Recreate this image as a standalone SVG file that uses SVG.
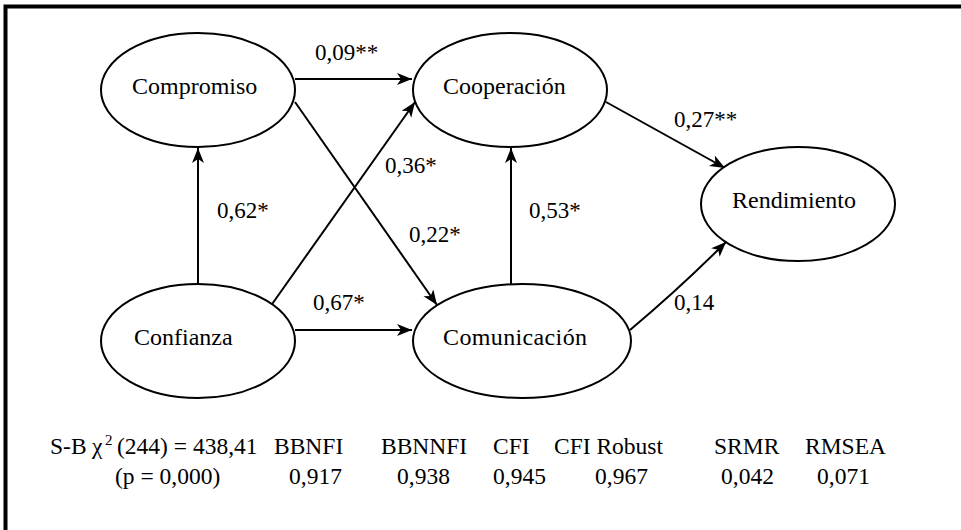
<svg xmlns="http://www.w3.org/2000/svg" width="961" height="530" viewBox="0 0 961 530" font-family="'Liberation Serif', 'DejaVu Serif', serif">
<style>
  .n ellipse { fill: #fff; stroke: #000; stroke-width: 2; }
  text { font-family: 'Liberation Serif', 'DejaVu Serif', serif; font-size: 23px; fill: #000; }
  .n text { font-size: 24px; }
  #fit text { font-size: 23.5px; }
  .c line, .c path { stroke: #000; stroke-width: 2; fill: none; marker-end: url(#ah); }
</style>
<defs>
  <marker id="ah" markerUnits="userSpaceOnUse" markerWidth="16" markerHeight="14" refX="15" refY="6" orient="auto">
    <path d="M0,0 L15,6 L0,12 L4,6 z" fill="#000"/>
  </marker>
</defs>
<rect width="961" height="530" fill="#fff"/>
<path d="M5.5,530 V6.5 H961" fill="none" stroke="#000" stroke-width="4"/>

<g class="c" id="connectors">
  <line x1="198" y1="284" x2="198" y2="148"/>
  <line x1="295" y1="79" x2="412" y2="79"/>
  <line x1="295" y1="102" x2="437" y2="305"/>
  <line x1="270" y1="307" x2="415" y2="102"/>
  <line x1="295" y1="330" x2="412" y2="330"/>
  <line x1="511" y1="284" x2="511" y2="148"/>
  <line x1="606" y1="102" x2="725" y2="168"/>
  <path d="M630,330 Q680,288 726,242"/>
</g>

<g class="n" id="compromiso">
  <ellipse cx="198" cy="90" rx="97" ry="57"/>
  <text x="132" y="94">Compromiso</text>
</g>
<g class="n" id="cooperacion">
  <ellipse cx="510" cy="90" rx="97" ry="57"/>
  <text x="443" y="94">Cooperación</text>
</g>
<g class="n" id="rendimiento">
  <ellipse cx="798" cy="204" rx="97" ry="57"/>
  <text x="732" y="208">Rendimiento</text>
</g>
<g class="n" id="confianza">
  <ellipse cx="198" cy="341" rx="97" ry="57"/>
  <text x="134" y="345">Confianza</text>
</g>
<g class="n" id="comunicacion">
  <ellipse cx="522" cy="341" rx="109" ry="57"/>
  <text x="443" y="345" textLength="144">Comunicación</text>
</g>

<g id="labels">
  <text x="315" y="60">0,09**</text>
  <text x="385" y="173">0,36*</text>
  <text x="217" y="218">0,62*</text>
  <text x="409" y="242">0,22*</text>
  <text x="674" y="127">0,27**</text>
  <text x="529" y="218">0,53*</text>
  <text x="313" y="310">0,67*</text>
  <text x="674" y="310">0,14</text>
</g>

<g id="fit">
  <text x="50" y="454">S-B</text>
  <text x="92" y="454">χ</text>
  <text x="105" y="445" style="font-size:15px">2</text>
  <text x="117" y="454">(244) = 438,41</text>
  <text x="274" y="454">BBNFI</text>
  <text x="381" y="454">BBNNFI</text>
  <text x="493" y="454">CFI</text>
  <text x="554" y="454">CFI Robust</text>
  <text x="714" y="454">SRMR</text>
  <text x="805" y="454">RMSEA</text>
  <text x="115" y="484">(p = 0,000)</text>
  <text x="289" y="484">0,917</text>
  <text x="397" y="484">0,938</text>
  <text x="493" y="484">0,945</text>
  <text x="595" y="484">0,967</text>
  <text x="721" y="484">0,042</text>
  <text x="817" y="484">0,071</text>
</g>
</svg>
